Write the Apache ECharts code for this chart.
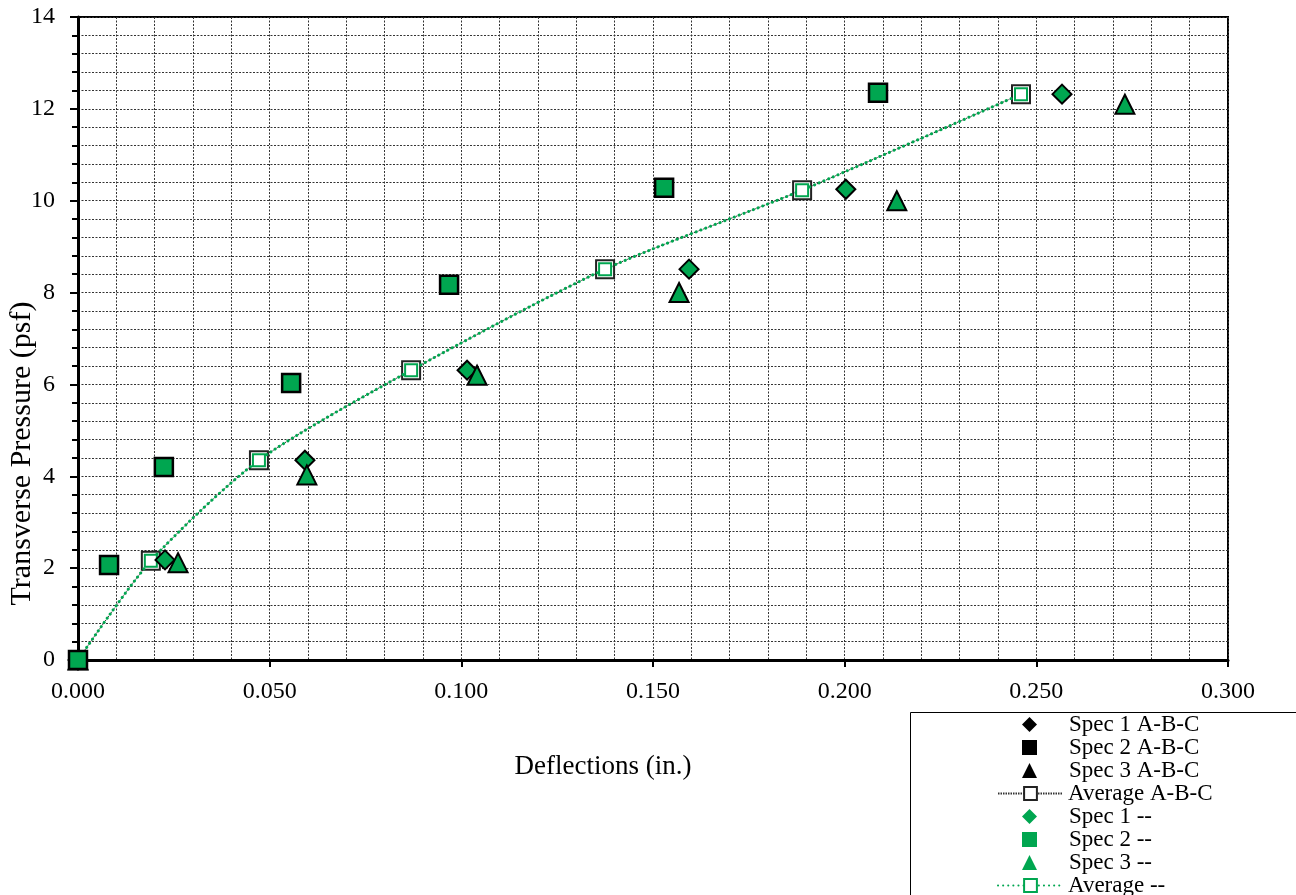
<!DOCTYPE html>
<html>
<head>
<meta charset="utf-8">
<script src="https://cdn.jsdelivr.net/npm/echarts@6/dist/echarts.min.js"></script>
<style>html,body{margin:0;padding:0;background:#fff;}#c{width:1296px;height:895px;}</style>
</head>
<body>
<div id="c"></div>
<script>
const spec1X = [0, 0.0227, 0.0592, 0.1015, 0.1594, 0.2003, 0.2567];
const spec1Y = [0, 2.18, 4.35, 6.31, 8.51, 10.25, 12.32];
const spec2X = [0, 0.0081, 0.0224, 0.0556, 0.0968, 0.1529, 0.2087];
const spec2Y = [0, 2.07, 4.20, 6.03, 8.17, 10.28, 12.35];
const spec3X = [0, 0.0261, 0.0597, 0.1041, 0.1568, 0.2136, 0.2731];
const spec3Y = [0, 2.12, 4.03, 6.20, 8.00, 10.00, 12.10];
const avgX = [0, 0.0190, 0.0472, 0.0869, 0.1375, 0.1889, 0.2460];
const avgY = [0, 2.16, 4.35, 6.31, 8.51, 10.23, 12.32];
const seriesNames = ['Spec 1 A-B-C','Spec 2 A-B-C','Spec 3 A-B-C','Average A-B-C','Spec 1 --','Spec 2 --','Spec 3 --','Average --'];

const pairs = (xs, ys) => xs.map((x, i) => [x, ys[i]]);
const GREEN = '#00A650';
const FONT = '"Liberation Serif", "Times New Roman", serif';
const gridLine = {show: true, lineStyle: {color: '#333', width: 1, type: [2, 1.5]}};
const ROW = 23, LTOP = 713;
const legTxt = {fontFamily: FONT, fontSize: 23, color: '#000', lineHeight: 23};
const scatterLegend = (names, row) => ({
  orient: 'vertical', left: 1022, top: LTOP + ROW * row, padding: 0, height: 200,
  itemWidth: 15, itemHeight: 15, itemGap: 0, selectedMode: false,
  textStyle: Object.assign({}, legTxt, {padding: [0, 0, 0, 27]}),
  data: names
});
const lineLegend = (names, row) => ({
  orient: 'vertical', left: 997, top: LTOP + ROW * row, padding: 0, height: 200,
  itemWidth: 65, itemHeight: 16, itemGap: 0, selectedMode: false,
  textStyle: legTxt,
  data: names
});

const chart = echarts.init(document.getElementById('c'), null, {renderer: 'canvas'});
chart.setOption({
  animation: false,
  backgroundColor: '#fff',
  textStyle: {fontFamily: FONT, color: '#000'},
  grid: {left: 78, right: 68, top: 17, bottom: 235, outerBoundsMode: 'none', containLabel: false,
    show: true, borderColor: '#000', borderWidth: 2, backgroundColor: 'transparent'},
  xAxis: {
    type: 'value', min: 0, max: 0.3, interval: 0.05,
    name: 'Deflections (in.)', nameLocation: 'middle', nameGap: 93, nameMoveOverlap: false,
    nameTextStyle: {fontFamily: FONT, fontSize: 27, color: '#000', padding: [0, 100, 0, 0]},
    axisLine: {show: true, onZero: false, lineStyle: {color: '#000', width: 3}},
    axisTick: {show: true, length: 7, lineStyle: {color: '#000', width: 2}},
    minorTick: {show: false, splitNumber: 5},
    splitLine: gridLine,
    minorSplitLine: gridLine,
    axisLabel: {fontFamily: FONT, fontSize: 24, color: '#000', margin: 20, formatter: v => v.toFixed(3)}
  },
  yAxis: {
    type: 'value', min: 0, max: 14, interval: 2,
    name: 'Transverse Pressure (psf)', nameLocation: 'middle', nameGap: 41, nameMoveOverlap: false,
    nameTextStyle: {fontFamily: FONT, fontSize: 30, color: '#000', padding: [0, 230, 0, 0]},
    axisLine: {show: true, onZero: false, lineStyle: {color: '#000', width: 3}},
    axisTick: {show: true, length: 8, lineStyle: {color: '#000', width: 2}},
    minorTick: {show: true, splitNumber: 5, length: 6, lineStyle: {color: '#000', width: 2}},
    splitLine: gridLine,
    minorSplitLine: gridLine,
    axisLabel: {fontFamily: FONT, fontSize: 24, color: '#000', margin: 23}
  },
  legend: [
    scatterLegend([seriesNames[0], seriesNames[1], seriesNames[2]], 0),
    lineLegend([seriesNames[3]], 3),
    scatterLegend([
      {name: seriesNames[4], itemStyle: {borderWidth: 0}},
      {name: seriesNames[5], itemStyle: {borderWidth: 0}},
      {name: seriesNames[6], itemStyle: {borderWidth: 0}}
    ], 4),
    lineLegend([seriesNames[7]], 7)
  ],
  graphic: [{
    type: 'rect', left: 910, top: 712, z: 100,
    shape: {width: 400, height: 200},
    style: {fill: 'transparent', stroke: '#000', lineWidth: 1}
  }],
  series: [
    {name: seriesNames[0], type: 'scatter', z: 4, symbol: 'diamond', symbolSize: 19, data: pairs(spec1X, spec1Y), itemStyle: {color: '#000', opacity: 1}},
    {name: seriesNames[1], type: 'scatter', z: 4, symbol: 'rect', symbolSize: 18, data: pairs(spec2X, spec2Y), itemStyle: {color: '#000', opacity: 1}},
    {name: seriesNames[2], type: 'scatter', z: 4, symbol: 'triangle', symbolSize: 19, data: pairs(spec3X, spec3Y), itemStyle: {color: '#000', opacity: 1}},
    {name: seriesNames[3], type: 'line', z: 2, symbol: 'rect', symbolSize: 18, smooth: 0.25, data: pairs(avgX, avgY),
      lineStyle: {color: '#333', width: 1, type: [1.5, 1]}, itemStyle: {color: '#fff', borderColor: '#222', borderWidth: 2}},
    {name: seriesNames[4], type: 'scatter', z: 4, symbol: 'diamond', symbolSize: 19, data: pairs(spec1X, spec1Y), itemStyle: {color: GREEN, borderColor: '#000', borderWidth: 2, opacity: 1}},
    {name: seriesNames[5], type: 'scatter', z: 5, symbol: 'rect', symbolSize: 18, data: pairs(spec2X, spec2Y), itemStyle: {color: GREEN, borderColor: '#000', borderWidth: 2.5, opacity: 1}},
    {name: seriesNames[6], type: 'scatter', z: 4, symbol: 'triangle', symbolSize: 19, data: pairs(spec3X, spec3Y), itemStyle: {color: GREEN, borderColor: '#000', borderWidth: 2, opacity: 1}},
    {name: seriesNames[7], type: 'line', z: 3, symbol: 'emptyRect', symbolSize: 12, smooth: 0.25, data: pairs(avgX, avgY),
      lineStyle: {color: GREEN, width: 3, type: [0.1, 5], cap: 'round'}, itemStyle: {color: GREEN, borderColor: GREEN, borderWidth: 2}}
  ]
});
</script>
</body>
</html>
